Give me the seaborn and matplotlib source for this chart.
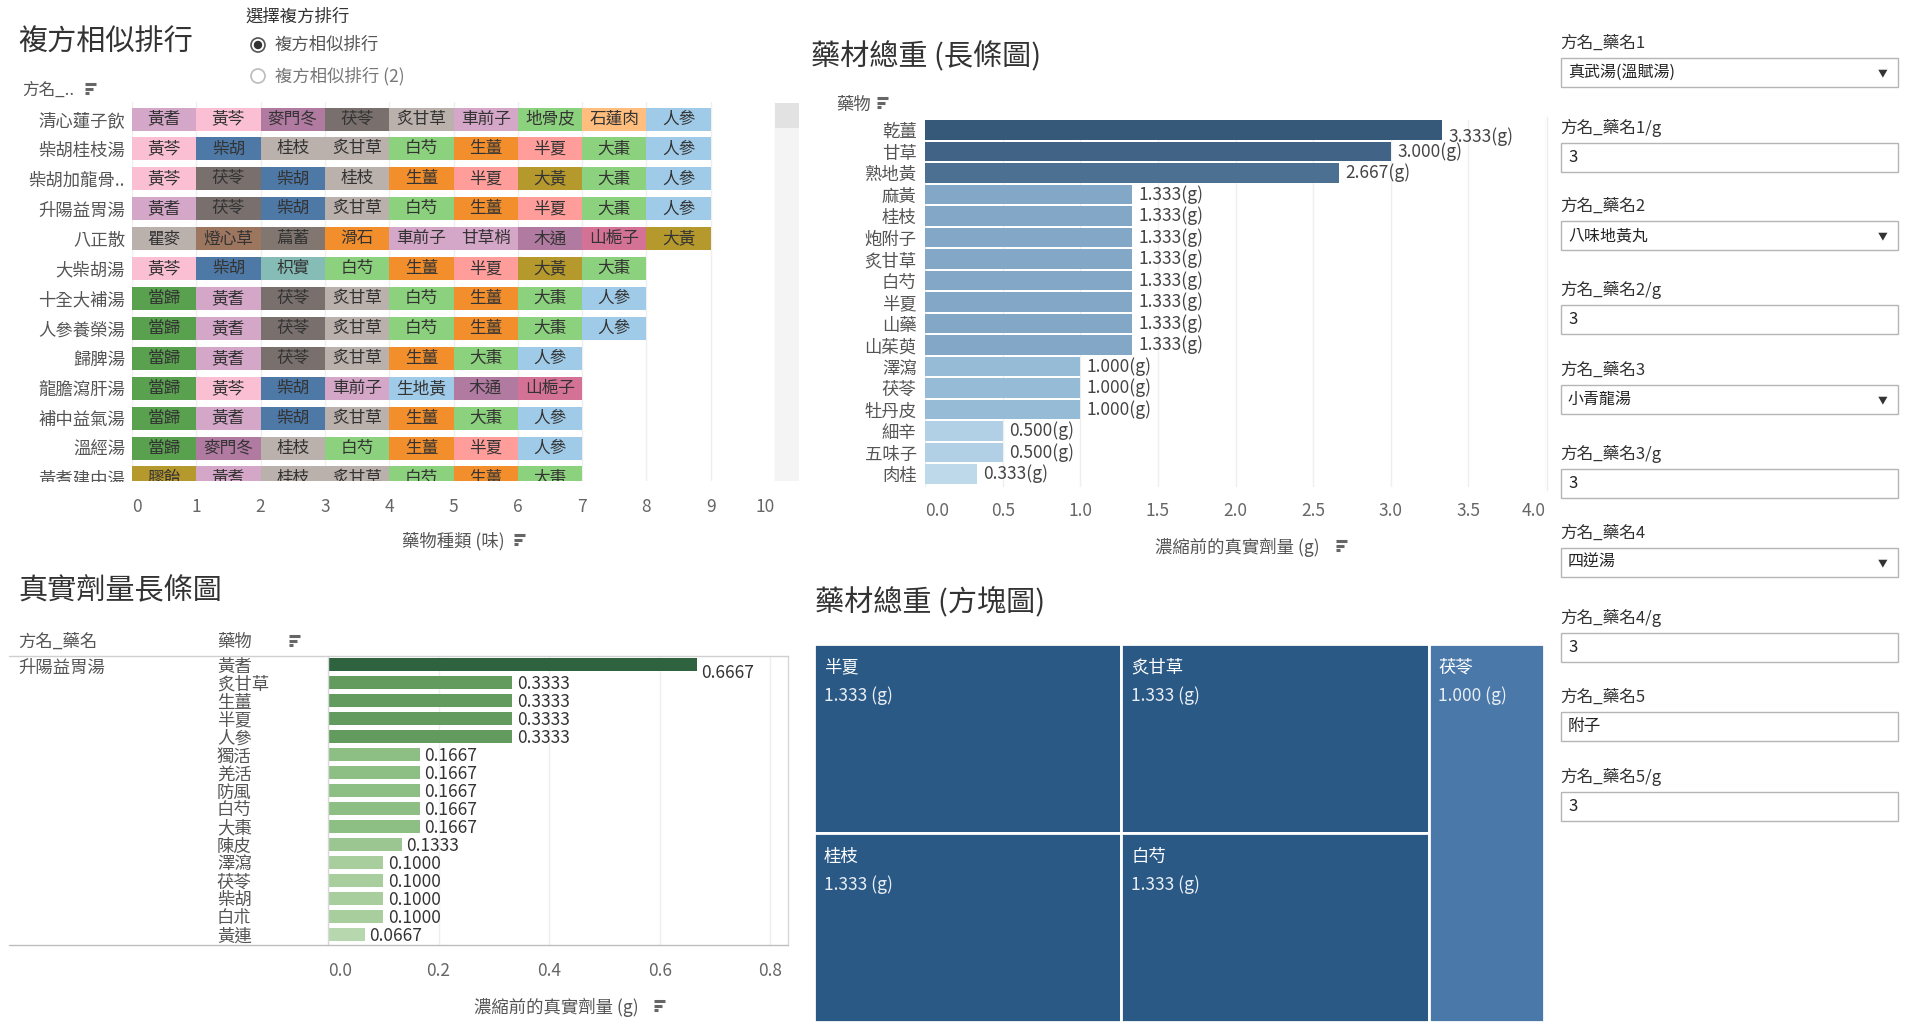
import matplotlib
matplotlib.use("Agg")
import matplotlib.pyplot as plt
from matplotlib.colors import LinearSegmentedColormap, Normalize
from matplotlib.patches import Rectangle, Circle
from matplotlib.lines import Line2D
from matplotlib.transforms import Affine2D
import seaborn as sns
import pandas as pd

# ---------------- 資料 ----------------
formula_names = ['清心蓮子飲', '柴胡桂枝湯', '柴胡加龍骨..', '升陽益胃湯', '八正散', '大柴胡湯',
                 '十全大補湯', '人參養榮湯', '歸脾湯', '龍膽瀉肝湯', '補中益氣湯', '溫經湯', '黃耆建中湯']
formula_herbs = [
    ['黃耆', '黃芩', '麥門冬', '茯苓', '炙甘草', '車前子', '地骨皮', '石蓮肉', '人參'],
    ['黃芩', '柴胡', '桂枝', '炙甘草', '白芍', '生薑', '半夏', '大棗', '人參'],
    ['黃芩', '茯苓', '柴胡', '桂枝', '生薑', '半夏', '大黃', '大棗', '人參'],
    ['黃耆', '茯苓', '柴胡', '炙甘草', '白芍', '生薑', '半夏', '大棗', '人參'],
    ['瞿麥', '燈心草', '萹蓄', '滑石', '車前子', '甘草梢', '木通', '山梔子', '大黃'],
    ['黃芩', '柴胡', '枳實', '白芍', '生薑', '半夏', '大黃', '大棗'],
    ['當歸', '黃耆', '茯苓', '炙甘草', '白芍', '生薑', '大棗', '人參'],
    ['當歸', '黃耆', '茯苓', '炙甘草', '白芍', '生薑', '大棗', '人參'],
    ['當歸', '黃耆', '茯苓', '炙甘草', '生薑', '大棗', '人參'],
    ['當歸', '黃芩', '柴胡', '車前子', '生地黃', '木通', '山梔子'],
    ['當歸', '黃耆', '柴胡', '炙甘草', '生薑', '大棗', '人參'],
    ['當歸', '麥門冬', '桂枝', '白芍', '生薑', '半夏', '人參'],
    ['膠飴', '黃耆', '桂枝', '炙甘草', '白芍', '生薑', '大棗'],
]

total_herbs = ['乾薑', '甘草', '熟地黃', '麻黃', '桂枝', '炮附子', '炙甘草', '白芍', '半夏',
               '山藥', '山茱萸', '澤瀉', '茯苓', '牡丹皮', '細辛', '五味子', '肉桂']
total_weight = [3.333, 3.000, 2.667, 1.333, 1.333, 1.333, 1.333, 1.333, 1.333,
                1.333, 1.333, 1.000, 1.000, 1.000, 0.500, 0.500, 0.333]

real_formula = '升陽益胃湯'
real_herbs = ['黃耆', '炙甘草', '生薑', '半夏', '人參', '獨活', '羌活', '防風', '白芍', '大棗',
              '陳皮', '澤瀉', '茯苓', '柴胡', '白朮', '黃連']
real_dose = [0.6667, 0.3333, 0.3333, 0.3333, 0.3333, 0.1667, 0.1667, 0.1667, 0.1667, 0.1667,
             0.1333, 0.1000, 0.1000, 0.1000, 0.1000, 0.0667]

tree_herbs = ['半夏', '炙甘草', '桂枝', '白芍', '茯苓']
tree_weight = [1.333, 1.333, 1.333, 1.333, 1.000]

param_labels = ['方名_藥名1', '方名_藥名1/g', '方名_藥名2', '方名_藥名2/g', '方名_藥名3',
                '方名_藥名3/g', '方名_藥名4', '方名_藥名4/g', '方名_藥名5', '方名_藥名5/g']
param_values = ['真武湯(溫賦湯)', '3', '八味地黃丸', '3', '小青龍湯', '3', '四逆湯', '3', '附子', '3']
param_kinds = ['select', 'text', 'select', 'text', 'select', 'text', 'select', 'text', 'text', 'text']

# 藥物顏色 (Tableau 20)
herb_colors = {
    '黃耆': '#D4A6C8', '黃芩': '#FABFD2', '麥門冬': '#B07AA1', '茯苓': '#79706E',
    '炙甘草': '#BAB0AC', '車前子': '#D4A6C8', '地骨皮': '#8CD17D', '石蓮肉': '#FFBE7D',
    '人參': '#A0CBE8', '柴胡': '#4E79A7', '桂枝': '#BAB0AC', '白芍': '#8CD17D',
    '生薑': '#F28E2B', '半夏': '#FF9D9A', '大棗': '#8CD17D', '大黃': '#B6992D',
    '瞿麥': '#BAB0AC', '燈心草': '#9D7660', '萹蓄': '#817770', '滑石': '#F28E2B',
    '甘草梢': '#D4A6C8', '木通': '#B07AA1', '山梔子': '#D37295', '枳實': '#86BCB6',
    '當歸': '#59A14F', '生地黃': '#A0CBE8', '膠飴': '#B6992D',
}

# ---------------- 樣式 ----------------
sns.set_theme(style="white")
plt.rcParams['font.family'] = ['Noto Sans CJK TC', 'DejaVu Sans']

W, H = 1920, 1034
fig = plt.figure(figsize=(W / 100, H / 100), dpi=100)
pix = Affine2D().scale(1 / W, -1 / H).translate(0, 1) + fig.transFigure

TITLE = '#333333'
LABEL = '#555555'
TICK = '#666666'


def add_ax(x0, y0, x1, y1):
    return fig.add_axes([x0 / W, 1 - y1 / H, (x1 - x0) / W, (y1 - y0) / H])


def ftext(x, y, s, **kw):
    kw.setdefault('va', 'center')
    kw.setdefault('color', LABEL)
    return fig.text(x, y, s, transform=pix, **kw)


def sort_icon(x, y):
    # 排序圖示: 三條遞減的橫線
    for i, w in enumerate([11, 8, 4]):
        fig.add_artist(Line2D([x, x + w], [y + i * 4.5, y + i * 4.5], transform=pix,
                              color='#666666', lw=2.2, solid_capstyle='butt'))


def hline(x0, x1, y, color='#d0d0d0'):
    fig.add_artist(Line2D([x0, x1], [y, y], transform=pix, color=color, lw=1))


def edge_ticklabels(ax):
    # Tableau 會把兩端的刻度標籤往內推
    labels = ax.get_xticklabels()
    labels[0].set_ha('left')
    labels[-1].set_ha('right')


# ================= 複方相似排行 =================
ftext(18, 43, '複方相似排行', fontsize=21, color=TITLE, fontweight='light')
ftext(245, 17, '選擇複方排行', fontsize=12.5, color=TITLE)
fig.add_artist(Circle((258, 45), 7, transform=pix, fill=False, ec='#555555', lw=1.2))
fig.add_artist(Circle((258, 45), 3.5, transform=pix, color='#333333'))
ftext(275, 45, '複方相似排行', fontsize=12.5, color=LABEL)
fig.add_artist(Circle((258, 76), 7, transform=pix, fill=False, ec='#bbbbbb', lw=1.2))
ftext(275, 76, '複方相似排行 (2)', fontsize=12.5, color='#777777')
ftext(22, 90, '方名_..', fontsize=12, color=LABEL)
sort_icon(85, 84)

# 捲軸
fig.add_artist(Rectangle((775, 103), 24, 378, transform=pix, color='#f4f4f4', lw=0))
fig.add_artist(Rectangle((775, 103), 24, 25, transform=pix, color='#e2e2e2', lw=0))

ax1 = add_ax(132, 102, 775, 481)
for i, herbs in enumerate(formula_herbs):
    for j, h in enumerate(herbs):
        ax1.barh(i, 1, left=j, height=0.77, color=herb_colors[h], linewidth=0, zorder=2)
        ax1.text(j + 0.5, i, h, ha='center', va='center', fontsize=12, color='#333333',
                 clip_on=True, zorder=3)
ax1.set_xlim(0, 10)
ax1.set_ylim(12.1, -0.57)
ax1.set_xticks(range(11))
ax1.set_yticks(range(len(formula_names)))
ax1.set_yticklabels(formula_names, fontsize=12.5, color=LABEL)
ax1.tick_params(axis='x', labelsize=12.5, labelcolor=TICK, pad=12, length=0)
ax1.tick_params(axis='y', pad=5, length=0)
edge_ticklabels(ax1)
ax1.grid(axis='x', color='#efefef', lw=1)
ax1.set_axisbelow(True)
for s in ax1.spines.values():
    s.set_visible(False)
# 捲動中被截斷的最後一列標籤
fig.add_artist(Rectangle((0, 482), 131, 15, transform=pix, color='white', lw=0, zorder=5))
ftext(453, 541, '藥物種類 (味)', fontsize=12.5, ha='center')
sort_icon(514, 535)

# ================= 藥材總重 (長條圖) =================
ftext(811, 57, '藥材總重 (長條圖)', fontsize=21, color=TITLE, fontweight='light')
ftext(836, 105, '藥物', fontsize=12.5)
sort_icon(877, 98)

blue_cmap = LinearSegmentedColormap.from_list('tab_blue', [
    (0.0, '#b7dbf1'), (0.0556, '#a9d2ee'), (0.222, '#8bbce0'),
    (0.333, '#78a9d2'), (0.778, '#41709e'), (1.0, '#2b5985')])
bnorm = Normalize(min(total_weight), max(total_weight))

ax2 = add_ax(925, 120, 1546, 487)
df_total = pd.DataFrame({'藥物': total_herbs, 'g': total_weight})
sns.barplot(data=df_total, x='g', y='藥物', hue='藥物', orient='h', dodge=False,
            palette={h: blue_cmap(bnorm(v)) for h, v in zip(total_herbs, total_weight)},
            legend=False, width=0.92, linewidth=0, ax=ax2, zorder=2)
for i, v in enumerate(total_weight):
    ax2.text(v + 0.04, i + (0.3 if i == 0 else 0), f'{v:.3f}(g)', va='center',
             fontsize=12.5, color='#444444')
ax2.set_xlim(0, 4.0)
ax2.set_ylim(16.6, -0.47)
ax2.set_xticks([0, 0.5, 1, 1.5, 2, 2.5, 3, 3.5, 4])
ax2.set_xticklabels(['0.0', '0.5', '1.0', '1.5', '2.0', '2.5', '3.0', '3.5', '4.0'])
ax2.tick_params(axis='x', labelsize=12.5, labelcolor=TICK, pad=11, length=0)
ax2.tick_params(axis='y', labelsize=12.5, labelcolor=LABEL, pad=6, length=0)
edge_ticklabels(ax2)
ax2.set_xlabel('')
ax2.set_ylabel('')
ax2.grid(axis='x', color='#efefef', lw=1)
ax2.set_axisbelow(True)
for s in ax2.spines.values():
    s.set_visible(False)
ftext(1237, 547, '濃縮前的真實劑量 (g)', fontsize=12.5, ha='center')
sort_icon(1336, 541)

# ================= 真實劑量長條圖 =================
ftext(18, 590, '真實劑量長條圖', fontsize=21, color=TITLE, fontweight='light')
ftext(18, 642, '方名_藥名', fontsize=12.5)
ftext(217, 642, '藥物', fontsize=12.5)
sort_icon(289, 636)
hline(9, 788, 656)
hline(9, 788, 945, color='#bdbdbd')
ftext(18, 668, real_formula, fontsize=12.5)

green_cmap = LinearSegmentedColormap.from_list('tab_green', [
    (0.0, '#b3dfa7'), (0.0555, '#a3d696'), (0.1667, '#86c77a'),
    (0.444, '#5aa454'), (1.0, '#266b3c')])
gnorm = Normalize(min(real_dose), max(real_dose))

ax3 = add_ax(328, 656, 788, 945)
df_real = pd.DataFrame({'藥物': real_herbs, 'g': real_dose})
sns.barplot(data=df_real, x='g', y='藥物', hue='藥物', orient='h', dodge=False,
            palette={h: green_cmap(gnorm(v)) for h, v in zip(real_herbs, real_dose)},
            legend=False, width=0.7, linewidth=0, ax=ax3, zorder=2)
for i, v in enumerate(real_dose):
    ax3.text(v + 0.008, i + (0.45 if i == 0 else 0.1), f'{v:.4f}', va='center',
             fontsize=12.5, color='#333333')
ax3.set_xlim(0, 0.832)
ax3.set_ylim(15.6, -0.485)
ax3.set_xticks([0, 0.2, 0.4, 0.6, 0.8])
ax3.set_xticklabels(['0.0', '0.2', '0.4', '0.6', '0.8'])
ax3.tick_params(axis='x', labelsize=12.5, labelcolor=TICK, pad=12, length=0)
ax3.tick_params(axis='y', labelsize=12.5, labelcolor=LABEL, pad=80, length=0)
ax3.get_xticklabels()[0].set_ha('left')
for lbl in ax3.get_yticklabels():
    lbl.set_ha('left')
ax3.set_xlabel('')
ax3.set_ylabel('')
ax3.grid(axis='x', color='#efefef', lw=1)
ax3.set_axisbelow(True)
for name, s in ax3.spines.items():
    s.set_visible(name in ('left', 'right'))
    s.set_color('#d8d8d8')
    s.set_linewidth(1)
ftext(556, 1007, '濃縮前的真實劑量 (g)', fontsize=12.5, ha='center')
sort_icon(654, 1001)

# ================= 藥材總重 (方塊圖) =================
ftext(815, 603, '藥材總重 (方塊圖)', fontsize=21, color=TITLE, fontweight='light')
ax4 = add_ax(814, 644, 1544, 1022)
tree_columns = [[0, 2], [1, 3], [4]]
total = sum(tree_weight)
tnorm = Normalize(min(tree_weight), max(tree_weight))
tree_cmap = LinearSegmentedColormap.from_list('tree', ['#4a78a8', '#2b5986'])
x0 = 0.0
for col in tree_columns:
    col_sum = sum(tree_weight[k] for k in col)
    y0 = 0.0
    for k in col:
        h = tree_weight[k] / col_sum
        ax4.add_patch(Rectangle((x0, y0), col_sum, h, facecolor=tree_cmap(tnorm(tree_weight[k])),
                                edgecolor='white', lw=2))
        ax4.annotate(tree_herbs[k], (x0, y0), xytext=(7, -17), textcoords='offset points',
                     va='center', ha='left', fontsize=12.5, color='white')
        ax4.annotate(f'{tree_weight[k]:.3f} (g)', (x0, y0), xytext=(7, -37),
                     textcoords='offset points', va='center', ha='left', fontsize=12.5,
                     color='#e8eef5')
        y0 += h
    x0 += col_sum
ax4.set_xlim(0, total)
ax4.set_ylim(1, 0)
ax4.axis('off')

# ================= 參數面板 =================
fig.add_artist(Line2D([1547, 1547], [117, 490], transform=pix, color='#eeeeee', lw=1))
box_tops = [58, 143, 221, 305, 385, 469, 548, 633, 712, 792]
for lab, val, kind, top in zip(param_labels, param_values, param_kinds, box_tops):
    ftext(1560, top - 15, lab, fontsize=12, color='#333333')
    fig.add_artist(Rectangle((1561, top), 337, 29, transform=pix, facecolor='white',
                             edgecolor='#b5b5b5', lw=1))
    ftext(1568, top + 14.5, val, fontsize=12 if kind == 'text' else 11.5, color='#222222')
    if kind == 'select':
        ftext(1883, top + 15, '▼', fontsize=7, color='#333333', ha='center')

fig.savefig('out.png', dpi=100)
